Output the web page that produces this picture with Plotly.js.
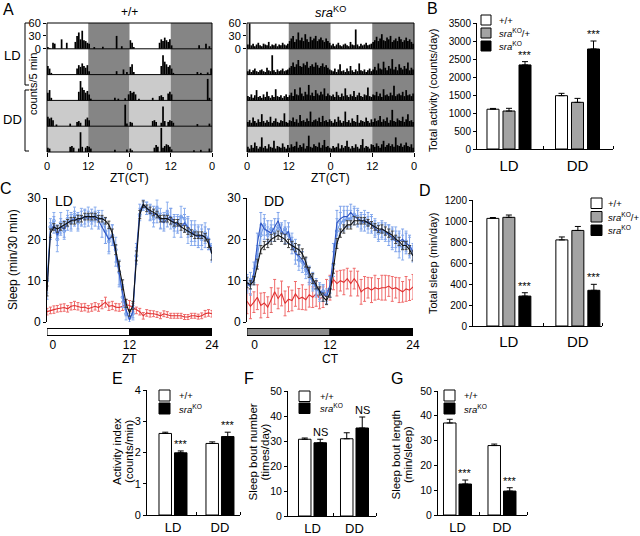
<!DOCTYPE html>
<html><head><meta charset="utf-8">
<script src="https://cdn.plot.ly/plotly-3.0.1.min.js"></script>
<style>html,body{margin:0;padding:0;background:#fff}#chart{width:640px;height:536px}</style>
</head><body><div id="chart"></div><script>
// ---------------- DATA ----------------
// Panel A: activity (counts/5 min) in 30-min bins, 6 consecutive days (days 1-3 LD, 4-6 DD)
const wtDay1 = [4,2,0,14,12,0,0,0,22,0,0,14, 0,0,0,0,16,30,38,22,42,20,18,14, 12,0,0,4,0,0,0,0,5,0,0,0, 0,0,0,0,30,0,0,6,0,0,0,0];
const wtDay2 = [20,14,4,0,0,0,0,0,0,0,0,0, 0,0,0,0,0,14,22,18,26,20,16,22, 8,0,0,0,0,0,0,0,0,0,0,0, 0,0,0,0,8,0,0,0,12,0,6,0];
const wtDay3 = [18,24,6,0,0,0,0,0,0,0,0,0, 0,0,0,0,0,0,20,45,30,24,18,22, 14,4,0,0,0,0,0,0,0,0,0,0, 0,0,0,6,0,4,0,0,0,5,0,14];
const wtDay4 = [22,18,20,14,0,4,0,0,0,0,0,0, 0,6,0,0,0,10,12,8,0,0,16,20, 14,0,0,0,0,0,0,0,0,0,0,0, 0,0,0,0,0,0,0,0,0,50,6,0];
const wtDay5 = [10,8,0,0,0,0,0,0,0,0,0,0, 0,12,14,10,0,0,8,46,12,0,10,14, 12,8,0,0,0,0,0,0,0,0,0,0, 0,0,0,5,0,0,0,0,0,0,6,0];
const wtDay6 = [8,4,0,0,0,0,0,0,0,0,0,0, 0,0,10,16,12,0,56,10,14,18,16,12, 6,0,0,0,0,0,0,0,0,0,0,0, 0,4,0,0,0,5,0,0,0,0,8,0];
const koDay1 = [10,60,8,12,6,10,14,8,6,12,10,8, 16,6,10,8,12,6,10,8,14,10,8,12, 18,24,30,16,22,38,20,26,18,34,22,16, 28,20,24,30,18,22,26,20,16,24,18,14];
const koDay2 = [8,12,6,10,14,8,6,10,12,8,6,16, 10,8,45,10,6,12,8,10,14,8,10,12, 16,20,28,18,24,34,20,18,26,22,30,16, 20,24,18,28,22,16,20,26,18,22,16,12];
const koDay3 = [10,8,14,6,12,24,8,10,6,14,8,20, 10,6,12,8,26,10,8,12,6,10,14,8, 12,18,10,26,14,12,30,16,10,20,14,36, 12,18,10,24,16,12,20,14,28,10,16,12];
const koDay4 = [10,14,8,20,12,8,16,10,28,12,8,14, 10,22,8,12,18,10,8,14,12,30,10,8, 14,12,20,10,16,8,26,12,14,10,18,12, 34,10,14,16,12,20,10,24,12,14,10,16];
const koDay5 = [12,8,16,10,22,14,8,12,34,10,14,8, 18,12,10,26,8,14,12,10,20,12,8,16, 10,18,12,14,24,10,16,12,20,8,14,38, 12,10,18,14,12,22,10,16,28,12,14,10];
const koDay6 = [8,14,10,12,20,8,16,10,14,26,12,8, 14,10,18,12,8,16,30,10,14,12,8,18, 16,12,20,14,10,18,26,12,16,20,14,18, 12,34,16,14,20,12,16,22,14,12,18,10];
const actoTicks = ['0','12','0','12','0'];

// Panel B: total activity (counts/day)
const groups = ['LD','DD'];
const actWT = [1105,1481], actWTerr = [22,65];
const actHet = [1055,1296], actHetErr = [75,110];
const actKO = [2335,2778], actKOerr = [92,222];

// Panel C: sleep (min/30 min), 49 half-hour points
const wtLD = [7.5,21.5,23,22.5,23,23.5,24,24.5,24.5,25,25,25.5, 25.5,25.5,25.5,25,25,24.5,23.5,21.5,17.5,13.5,9,4.5, 2.2,4,16,26,28.5,27.5,27,26.5,26,25,25,25, 24.5,24,24,23,22.5,22,21.5,21,21,21,20.5,19, 16.5];
const wtLDerr = [1.2,1,0.8,0.8,0.8,0.8,0.8,0.8,0.8,0.8,0.8,0.8, 0.8,0.8,0.8,0.8,0.8,0.8,0.9,1,1.2,1.2,1.2,1, 0.8,1,1.2,1,0.8,0.8,0.8,0.8,0.8,0.8,0.8,0.8, 0.8,0.8,0.8,0.8,0.8,0.8,0.8,0.8,0.8,0.8,0.9,1, 1.5];
const blue1LD = [8,22,23.5,21,23,22.5,24,24.5,25,24.5,25,25.5, 25,25.5,25,24.5,23,21.5,20,21,16,11,7,3, 0.5,2.5,17,27,28.5,27.5,26.5,26,26,24.5,24,25, 25.5,24,23.5,23,24,23,22,21,20.5,21,20.5,20, 16.5];
const blue1LDerr = [2.5,2,2,2.5,2,2,1.8,2,1.8,2,1.8,1.8, 1.8,1.8,1.8,2,2.5,2.5,3,2.5,2.5,2.5,2,1.5, 1,1.5,2,1.5,1,1.5,1.8,2,2,1.8,2,2, 2,2,2,2.5,2,2.5,2.5,2.5,2.5,2.5,2.5,2.5, 2];
const blue2LD = [10,23,24.5,20,24,22,25,24,26,24,25.5,25, 26,24.5,26,25,25,22,19.5,21,17.5,12,6,2, 1,2,16,26,28,27.5,26.5,25,27.5,25,24.5,26.5, 25,23,24,25.5,25,22,21,22,21,20,21.5,20, 17];
const blue2LDerr = [3,2,2,3,2.5,2,2,2,1.8,2,2,2, 1.8,2,1.8,2,2,3,3,2.5,3,3,2.5,1.5, 1,1.5,2,1.5,1,1.5,2,2,2,2.5,2,2.5, 2.5,2.5,2,2.5,2.5,3,2.5,2.5,2.5,2.5,2.5,2.5, 2];
const koLD = [2.5,2.8,3,3.2,3.4,3.5,3.2,3.8,4,3.8,3.5,3.6, 3.2,3.5,3.8,3.5,4.2,4.8,3.8,4,3.6,3.5,3.8,4.2, 4,3.5,2.8,2.5,1.5,2.2,2,2,1.8,1.5,2,1.8, 1.5,1.5,1.5,1.5,1.2,1.2,1.5,1.5,1.3,1.5,2,2.2, 2];
const koLDerr = [0.8,0.8,0.9,0.8,0.9,0.9,0.8,0.9,1,0.9,0.9,0.9, 0.8,0.9,0.9,0.9,1,1.2,1,1,0.9,0.9,1,1.2, 1.2,1,0.8,0.8,0.8,0.8,0.8,0.7,0.7,0.7,0.7,0.7, 0.6,0.6,0.6,0.6,0.6,0.6,0.6,0.6,0.6,0.7,0.8,0.8, 0.8];
const wtDD = [9.5,9,10,14,17.5,18.5,19,20,20.5,21,20.5,20, 19,18.5,18,17.5,16.5,14.5,12,10.5,9,7.5,6,5.2, 7,13,19,21.5,22.5,23.5,23.5,24.5,24.5,24.5,24.5,24, 23.5,23,22.5,22.5,22,21.5,21,20,19.5,18.5,18.5,17.5, 16];
const wtDDerr = [1.2,1,1,1.2,1,1,1,1.2,1,1,1,1.2, 1,1,1,1.2,1.2,1.2,1.2,1.2,1,1,1,1, 1,1.2,1.2,1,1,1,1,1,0.8,0.8,0.8,0.8, 0.8,0.8,0.8,1,1,1,1,1,1,1,1,1, 1.2];
const blue1DD = [9.5,8.5,12,19,24,22.5,22,21.5,23,24.5,22,21, 22,18.5,16.5,16,15,13.5,11.5,10,8.5,7.5,7,6, 9,16,24,25,25.5,25.5,26.5,25.5,25,24.5,24,24.5, 23.5,22.5,22,22.5,22,21,20.5,19.5,19.5,20,19,18.5, 17];
const blue1DDerr = [2,2,2.5,2.5,2.5,2.5,2.5,2,2,2,2,2, 2,2,2.5,2.5,2,2,2,2,2,2,2,1.5, 2,3,3,3,2.5,2.5,2,2,2,2,2,2, 2,2,2,2,2,2.5,2.5,2.5,2.5,2.5,2.5,2.5, 2];
const blue2DD = [9,10,11,16,21,23.5,21,22.5,21.5,23,21.5,22.5, 21,19.5,17.5,15,14.5,12.5,11,9.5,8,7,7.5,6.5, 8,14,22,24,24.5,25,25,26,25.5,24,25,23.5, 24,23,21.5,22,21.5,21.5,20,20.5,18.5,18,19.5,18, 16.5];
const blue2DDerr = [2,2,2,2.5,2.5,2.5,2,2,2,2,2,2, 2,2,2.5,2.5,2.5,2,2,2,2,2,1.5,1.5, 2,3,3,2.5,2.5,2,2,2,2,2,2,2, 2,2,2,2,2,2,2.5,2.5,3,3,2.5,2.5, 2];
const koDD = [5,3.8,4.8,6,4,4.6,3.6,5.3,7.3,5.7,6.9,4.5, 5.5,5.2,6.8,5.6,6,5.4,6.6,6,6.8,5.7,6,7.3, 8.3,10.3,9.3,10,9.6,10.5,9.3,10.5,9.3,7.3,8,8.3, 7.7,8.3,8,8.3,8.3,8.7,8,8.3,7.7,7.3,8,7.7, 8.5];
const koDDerr = [3,3,2.5,3,3,2.5,2.5,3,3,2.5,3,3, 3,2.5,3,2.5,3,2.5,3,2.5,3,2.5,2.5,3, 3,2.5,3,2.5,3,2.5,3,2.5,3,3,3,2.5, 3,3,2.5,3,3,2.5,3,2.5,3,2.5,3,2.5, 3];
const cTickText = ['0','12','24'];

// Panel D: total sleep (min/day)
const slpWT = [1025,820], slpWTerr = [8,28];
const slpHet = [1035,910], slpHetErr = [22,38];
const slpKO = [285,340], slpKOerr = [32,57];
// Panel E: activity index (counts/min)
const aiWT = [2.61,2.29], aiWTerr = [0.04,0.05];
const aiKO = [1.99,2.51], aiKOerr = [0.06,0.14];
// Panel F: sleep bout number (times/day)
const sbnWT = [30.7,30.9], sbnWTerr = [0.5,2.4];
const sbnKO = [29.3,35.2], sbnKOerr = [1.4,4.4];
// Panel G: sleep bout length (min/sleep)
const sblWT = [37.1,28.0], sblWTerr = [1.5,0.6];
const sblKO = [12.5,9.65], sblKOerr = [1.6,1.35];

// ---------------- HELPERS ----------------
const W = 640, H = 536;
const FONT = 'Liberation Sans, Arial, Helvetica, sans-serif';
const px = v => v / W;
const py = v => 1 - v / H;
const dX = (a, b) => [px(a), px(b)];
const dY = (top, bot) => [py(bot), py(top)];
const GRAY = '#a3a3a3';
const traces = [], shapes = [], annotations = [];

function ann(x, y, text, size, opts) {
  annotations.push(Object.assign({xref:'paper', yref:'paper', x:px(x), y:py(y), text, showarrow:false,
    xanchor:'center', yanchor:'middle', font:{family:FONT, size, color:'#000'}}, opts || {}));
}
function rectPx(x0, y0, x1, y1, fill, lw) {
  shapes.push({type:'rect', xref:'paper', yref:'paper', x0:px(x0), x1:px(x1), y0:py(y1), y1:py(y0),
    fillcolor:fill, line:{color:'#000', width:lw === undefined ? 1 : lw}, layer:'above'});
}
function linePx(x0, y0, x1, y1) {
  shapes.push({type:'line', xref:'paper', yref:'paper', x0:px(x0), x1:px(x1), y0:py(y0), y1:py(y1),
    line:{color:'#000', width:1}, layer:'above'});
}

// ---------------- PANEL A (actograms) ----------------
const rowPattern = [['w','d','w','d'],['w','d','w','d'],['w','d','l','d'],['l','d','l','d'],['l','d','l','d']];
const shadeCol = {d:'#858585', l:'#cbcbcb'};
function actogram(days, xa, ya, barW) {
  const x = [], y = [], base = [];
  for (let r = 0; r < 5; r++) {
    const b = (4 - r) * 60;
    for (let half = 0; half < 2; half++) {
      const day = days[r + half];
      day.forEach((v, i) => { if (v > 0) { x.push(half * 24 + i * 0.5 + 0.25); y.push(Math.min(v, 59)); base.push(b); } });
    }
    rowPattern[r].forEach((c, q) => {
      if (c !== 'w') shapes.push({type:'rect', xref:xa, yref:ya, x0:q*12, x1:q*12+12, y0:b, y1:b+60,
        fillcolor:shadeCol[c], line:{width:0}, layer:'below'});
    });
    if (r < 4) shapes.push({type:'line', xref:xa + ' domain', x0:0, x1:1, yref:ya, y0:b, y1:b, line:{color:'#000', width:1}, layer:'above'});
  }
  shapes.push({type:'rect', xref:xa + ' domain', yref:ya + ' domain', x0:0, x1:1, y0:0, y1:1, line:{color:'#000', width:1}, layer:'above'});
  traces.push({type:'bar', x, y, base, width:barW, xaxis:xa, yaxis:ya, marker:{color:'#000', line:{width:0}}, hoverinfo:'skip'});
}
actogram([wtDay1,wtDay2,wtDay3,wtDay4,wtDay5,wtDay6], 'x', 'y', 0.5);
actogram([koDay1,koDay2,koDay3,koDay4,koDay5,koDay6], 'x2', 'y2', 0.5);

ann(8, 9.5, 'A', 16);
ann(129, 12, '+/+', 12);
ann(330, 12, '<i>sra</i><sup>KO</sup>', 13);
ann(12, 55, 'LD', 13);
ann(12, 120, 'DD', 13);
ann(33, 84, 'counts/5 min', 11, {textangle:-90});
ann(129, 178, 'ZT(CT)', 12);
ann(330, 178, 'ZT(CT)', 12);
linePx(25, 23, 25, 85); linePx(25, 23, 29, 23); linePx(25, 85, 29, 85);
linePx(25, 90, 25, 151); linePx(25, 90, 29, 90); linePx(25, 151, 29, 151);

// ---------------- bar panels helper ----------------
function groupBars(xa, ya, series, ppu, slots, starTexts, starSize) {
  series.forEach((s, k) => {
    traces.push({type:'bar', x:[0,1], y:s.y, xaxis:xa, yaxis:ya, offset:slots[k][0]/ppu, width:(slots[k][1]-slots[k][0])/ppu,
      marker:{color:s.fill, line:{color:'#000', width:1}},
      error_y:{type:'data', symmetric:false, array:s.err, arrayminus:[0,0], color:'#000', thickness:1, width:3},
      hoverinfo:'skip'});
  });
  const k = series.length - 1, s = series[k];
  const cx = (slots[k][0] + slots[k][1]) / 2 / ppu;
  [0,1].forEach(i => {
    if (starTexts[i]) annotations.push({xref:xa, yref:ya, x:i + cx, y:s.y[i] + s.err[i], text:starTexts[i], showarrow:false,
      xanchor:'center', yanchor:'bottom', yshift:-1, font:{family:FONT, size:starSize, color:'#000'}});
  });
}
function legendBlock(bx, bw, tops, bh, fills, tx, labels, size) {
  fills.forEach((f, i) => {
    rectPx(bx, tops[i], bx + bw, tops[i] + bh, f, 1);
    ann(tx, tops[i] + bh / 2, labels[i], size, {xanchor:'left'});
  });
}
const LBL3 = ['+/+', '<i>sra</i><sup>KO</sup>/+', '<i>sra</i><sup>KO</sup>'];
const LBL2 = ['+/+', '<i>sra</i><sup>KO</sup>'];

// ---------------- PANEL B ----------------
groupBars('x3', 'y3', [{y:actWT, err:actWTerr, fill:'#fff'}, {y:actHet, err:actHetErr, fill:GRAY}, {y:actKO, err:actKOerr, fill:'#000'}],
  68.5, [[-22,-10],[-6,6],[10,22]], ['***','***'], 11);
ann(432, 8.5, 'B', 16);
ann(433, 90, 'Total activity (counts/day)', 11, {textangle:-90});
legendBlock(481, 10, [15, 28, 41], 10, ['#fff', GRAY, '#000'], 497, LBL3, 9.5);

// ---------------- PANEL C ----------------
const halfHours = wtLD.map((_, i) => i * 0.5);
function sleepLine(vals, errs, color, errColor, xa, ya, marker) {
  const t = {type:'scatter', mode:'lines', x:halfHours, y:vals, xaxis:xa, yaxis:ya,
    line:{color, width:1.1},
    error_y:{type:'data', array:errs, color:errColor, thickness:1, width:1.5}, hoverinfo:'skip'};
  if (marker) { t.mode = 'lines+markers'; t.marker = marker; }
  traces.push(t);
}
sleepLine(koLD, koLDerr, '#e03030', '#ef6a6a', 'x4', 'y4');
sleepLine(blue2LD, blue2LDerr, '#6f9be8', '#8aaeee', 'x4', 'y4', {symbol:'circle-open', size:3, color:'#6f9be8'});
sleepLine(blue1LD, blue1LDerr, '#2f56c4', '#7ea2ea', 'x4', 'y4');
sleepLine(wtLD, wtLDerr, '#111', '#444', 'x4', 'y4');
sleepLine(koDD, koDDerr, '#e03030', '#ef6a6a', 'x5', 'y5');
sleepLine(blue2DD, blue2DDerr, '#6f9be8', '#8aaeee', 'x5', 'y5', {symbol:'circle-open', size:3, color:'#6f9be8'});
sleepLine(blue1DD, blue1DDerr, '#2f56c4', '#7ea2ea', 'x5', 'y5');
sleepLine(wtDD, wtDDerr, '#111', '#444', 'x5', 'y5');
// light/dark bars under C
shapes.push({type:'rect', xref:'x4', yref:'paper', x0:0, x1:12, y0:py(335.5), y1:py(328.5), fillcolor:'#fff', line:{color:'#000', width:1}});
shapes.push({type:'rect', xref:'x4', yref:'paper', x0:12, x1:24, y0:py(335.5), y1:py(328.5), fillcolor:'#000', line:{color:'#000', width:1}});
shapes.push({type:'rect', xref:'x5', yref:'paper', x0:0, x1:12, y0:py(335.5), y1:py(328.5), fillcolor:'#8c8c8c', line:{color:'#000', width:1}});
shapes.push({type:'rect', xref:'x5', yref:'paper', x0:12, x1:24, y0:py(335.5), y1:py(328.5), fillcolor:'#000', line:{color:'#000', width:1}});
ann(6, 188, 'C', 16);
ann(63.5, 201, 'LD', 14);
ann(274, 201, 'DD', 14);
ann(13, 260, 'Sleep (min/30 min)', 12, {textangle:-90});
ann(129.5, 359, 'ZT', 12);
ann(330.5, 359, 'CT', 12);

// ---------------- PANEL D ----------------
groupBars('x6', 'y6', [{y:slpWT, err:slpWTerr, fill:'#fff'}, {y:slpHet, err:slpHetErr, fill:GRAY}, {y:slpKO, err:slpKOerr, fill:'#000'}],
  69, [[-22,-10],[-6,6],[10,22]], ['***','***'], 11);
ann(425, 190, 'D', 16);
ann(433, 263, 'Total sleep (min/day)', 11, {textangle:-90});
legendBlock(591, 11, [198, 211.5, 225], 10.5, ['#fff', GRAY, '#000'], 606, LBL3, 9.5);

// ---------------- PANELS E, F, G ----------------
groupBars('x7', 'y7', [{y:aiWT, err:aiWTerr, fill:'#fff'}, {y:aiKO, err:aiKOerr, fill:'#000'}], 47, [[-14,-1.5],[1.5,14]], ['***','***'], 11);
groupBars('x8', 'y8', [{y:sbnWT, err:sbnWTerr, fill:'#fff'}, {y:sbnKO, err:sbnKOerr, fill:'#000'}], 42, [[-14,-1.5],[1.5,14]], ['NS','NS'], 11);
groupBars('x9', 'y9', [{y:sblWT, err:sblWTerr, fill:'#fff'}, {y:sblKO, err:sblKOerr, fill:'#000'}], 44.5, [[-14,-1.5],[1.5,14]], ['***','***'], 11);
ann(117, 378, 'E', 16); ann(249, 378, 'F', 16); ann(397, 378, 'G', 16);
ann(117, 452, 'Activity index', 11.5, {textangle:-90});
ann(129, 452, '(counts/min)', 11.5, {textangle:-90});
ann(252.5, 452, 'Sleep bout number', 11.5, {textangle:-90});
ann(264.5, 452, '(times/day)', 11.5, {textangle:-90});
ann(395.5, 455, 'Sleep bout length', 11.5, {textangle:-90});
ann(408, 455, '(min/sleep)', 11.5, {textangle:-90});
legendBlock(159, 11, [390, 403], 11, ['#fff', '#000'], 177, LBL2, 9.5);
legendBlock(299, 11, [391, 403], 10.5, ['#fff', '#000'], 318, LBL2, 9.5);
legendBlock(444, 11, [390, 403], 11, ['#fff', '#000'], 462, LBL2, 9.5);

// ---------------- AXES ----------------
const tf = s => ({family:FONT, size:s, color:'#000'});
const base = {showgrid:false, zeroline:false, fixedrange:true, linecolor:'#000', linewidth:1, tickcolor:'#000', tickwidth:1, ticklen:3};
function ax(o) { return Object.assign({}, base, o); }
function catX(domain, range, anchor, size, standoff) {
  return ax({domain, range, anchor, tickmode:'array', tickvals:[0,1], ticktext:groups, ticks:'', showline:true,
    tickfont:tf(size), ticklabelstandoff:standoff,
    minor:{tickmode:'array', tickvals:[0.5, range[1]], ticks:'inside', ticklen:3, tickcolor:'#000', showgrid:false}});
}
function valY(domain, range, dtick, anchor, size) {
  return ax({domain, range, anchor, tickmode:'linear', tick0:0, dtick, ticks:'outside', showline:true, tickfont:tf(size)});
}
const layout = {
  width:W, height:H, margin:{l:0, r:0, t:0, b:0}, paper_bgcolor:'#fff', plot_bgcolor:'rgba(0,0,0,0)',
  showlegend:false, font:{family:FONT, color:'#000'}, barmode:'overlay',
  xaxis: ax({domain:dX(47,212), range:[0,48], anchor:'y', tickmode:'array', tickvals:[0,12,24,36,48], ticktext:actoTicks, ticks:'outside', ticklen:4, showline:false, tickfont:tf(11)}),
  yaxis: ax({domain:dY(23,152), range:[0,300], anchor:'x', tickmode:'array', tickvals:[240,270,300], ticktext:['0','30','60'], ticks:'outside', showline:false, tickfont:tf(11)}),
  xaxis2: ax({domain:dX(247,414), range:[0,48], anchor:'y2', tickmode:'array', tickvals:[0,12,24,36,48], ticktext:actoTicks, ticks:'outside', ticklen:4, showline:false, tickfont:tf(11)}),
  yaxis2: ax({domain:dY(23,152), range:[0,300], anchor:'x2', tickmode:'array', tickvals:[240,270,300], ticktext:['0','30','60'], ticks:'outside', showline:false, tickfont:tf(11)}),
  xaxis3: catX(dX(477,613), [-0.467,1.518], 'y3', 15, 3),
  yaxis3: valY(dY(23,149), [0,3500], 500, 'x3', 10),
  xaxis4: ax({domain:dX(47,212), range:[0,24], anchor:'y4', tickmode:'array', tickvals:[0.85,12,24], ticktext:cTickText, ticks:'', showline:false, tickfont:tf(12), ticklabelstandoff:14}),
  yaxis4: valY(dY(198,322), [0,30], 10, 'x4', 12),
  xaxis5: ax({domain:dX(247,413), range:[0,24], anchor:'y5', tickmode:'array', tickvals:[1.1,12,24], ticktext:cTickText, ticks:'', showline:false, tickfont:tf(12), ticklabelstandoff:14}),
  yaxis5: valY(dY(198,322), [0,30], 10, 'x5', 12),
  xaxis6: catX(dX(473,602), [-0.52,1.35], 'y6', 15, 2),
  yaxis6: valY(dY(200,326), [0,1200], 200, 'x6', 10),
  xaxis7: catX(dX(147,240), [-0.553,1.426], 'y7', 13, 0),
  yaxis7: valY(dY(390,515), [0,4], 1, 'x7', 11),
  xaxis8: catX(dX(288,376), [-0.583,1.512], 'y8', 13, 0),
  yaxis8: valY(dY(391,516), [0,50], 10, 'x8', 10.5),
  xaxis9: catX(dX(438,527), [-0.438,1.562], 'y9', 13, 0),
  yaxis9: valY(dY(391,515), [0,50], 10, 'x9', 10.5),
  shapes, annotations
};
Plotly.newPlot('chart', traces, layout, {staticPlot:true, displayModeBar:false});
</script></body></html>
